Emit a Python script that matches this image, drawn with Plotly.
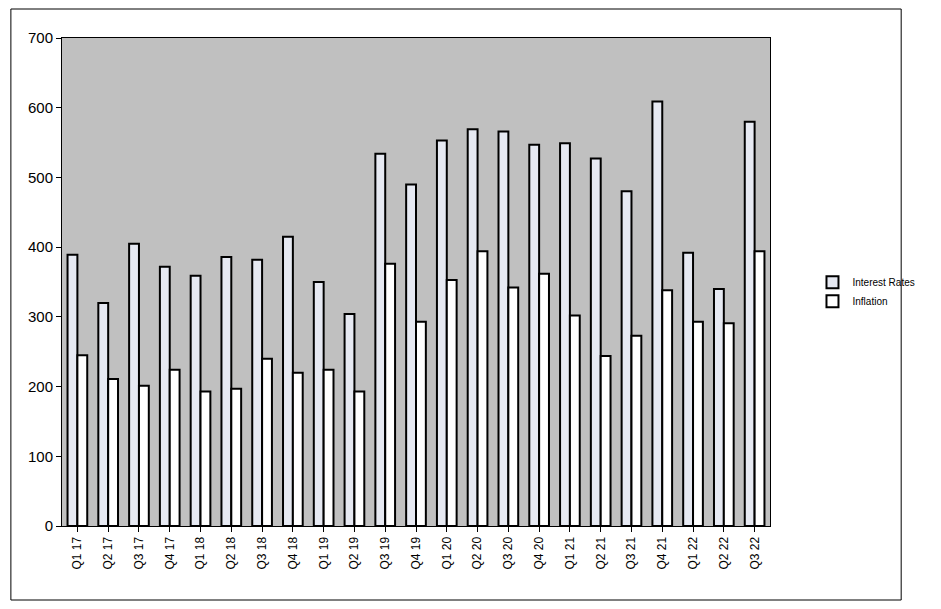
import plotly.graph_objects as go

quarters = ["Q1 17", "Q2 17", "Q3 17", "Q4 17", "Q1 18", "Q2 18", "Q3 18", "Q4 18",
            "Q1 19", "Q2 19", "Q3 19", "Q4 19", "Q1 20", "Q2 20", "Q3 20", "Q4 20",
            "Q1 21", "Q2 21", "Q3 21", "Q4 21", "Q1 22", "Q2 22", "Q3 22"]
interest_rates = [389, 320, 405, 372, 359, 386, 382, 415, 350, 304, 534, 490,
                  553, 569, 566, 547, 549, 527, 480, 609, 392, 340, 580]
inflation = [245, 211, 201, 224, 193, 197, 240, 220, 224, 193, 376, 293,
             353, 394, 342, 362, 302, 244, 273, 338, 293, 291, 394]

fig = go.Figure()
fig.add_trace(go.Bar(x=quarters, y=interest_rates, name="Interest Rates",
                     marker=dict(color="#e6e9f2", line=dict(color="black", width=2))))
fig.add_trace(go.Bar(x=quarters, y=inflation, name="Inflation",
                     marker=dict(color="white", line=dict(color="black", width=2))))

# page has an 8px body margin, so the figure is shrunk to land the plot area in place
pw = 734
ph = 488
fig.add_shape(type="rect", xref="paper", yref="paper",
              x0=-53 / pw, x1=1 + 136 / pw, y0=-74 / ph, y1=1 + 29 / ph,
              line=dict(color="black", width=1))

fig.update_layout(
    width=925, height=593,
    margin=dict(l=54, r=137, t=30, b=75),
    paper_bgcolor="white", plot_bgcolor="#c0c0c0",
    barmode="group", bargap=0.36, bargroupgap=0.0,
    font=dict(family="Liberation Sans, Arial", color="black", size=12),
    showlegend=True,
    legend=dict(x=1.06, y=0.48, yanchor="middle", font=dict(size=10),
                bgcolor="rgba(0,0,0,0)", itemwidth=30),
    xaxis=dict(tickangle=-90, showline=True, linecolor="black", mirror=True,
               ticks="outside", ticklen=5, tickcolor="black", showgrid=False),
    yaxis=dict(range=[0, 700], dtick=100, showline=True, linecolor="black", mirror=True,
               ticks="outside", ticklen=5, tickcolor="black", showgrid=False,
               zeroline=False, tickfont=dict(size=15)),
)

fig.write_html("out.html")
